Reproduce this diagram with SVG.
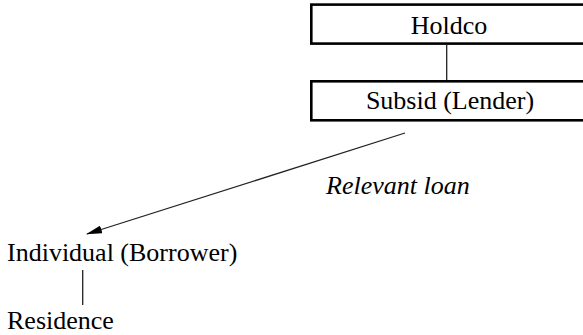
<svg xmlns="http://www.w3.org/2000/svg" width="583" height="335" viewBox="0 0 583 335">
<style>
.box{fill:#fff;stroke:#000;stroke-width:2.6}
text{font-family:'Liberation Serif','Times New Roman',serif;font-size:26px;fill:#000}
.c{stroke:#222;stroke-width:1.3;fill:none}
</style>
<defs>
<marker id="ah" viewBox="0 0 16 8" refX="15" refY="4" markerWidth="16" markerHeight="8" markerUnits="userSpaceOnUse" orient="auto">
<path d="M0,0 L16,4 L0,8 Z" fill="#000"/>
</marker>
</defs>
<rect width="583" height="335" fill="#fff"/>
<g id="connectors">
<line class="c" x1="446.7" y1="45" x2="446.7" y2="80"/>
<line class="c" x1="405" y1="133" x2="87" y2="234" marker-end="url(#ah)"/>
<line class="c" x1="82.7" y1="270" x2="82.7" y2="305"/>
<text x="326" y="193.5" font-style="italic">Relevant loan</text>
</g>
<g id="holdco">
<rect class="box" x="311.3" y="4.6" width="290" height="39"/>
<text x="449" y="33.5" text-anchor="middle">Holdco</text>
</g>
<g id="subsid">
<rect class="box" x="311.3" y="81.3" width="290" height="39"/>
<text x="450" y="109" text-anchor="middle">Subsid (Lender)</text>
</g>
<g id="individual">
<text x="7" y="261">Individual (Borrower)</text>
</g>
<g id="residence">
<text x="7" y="329.3">Residence</text>
</g>
</svg>
